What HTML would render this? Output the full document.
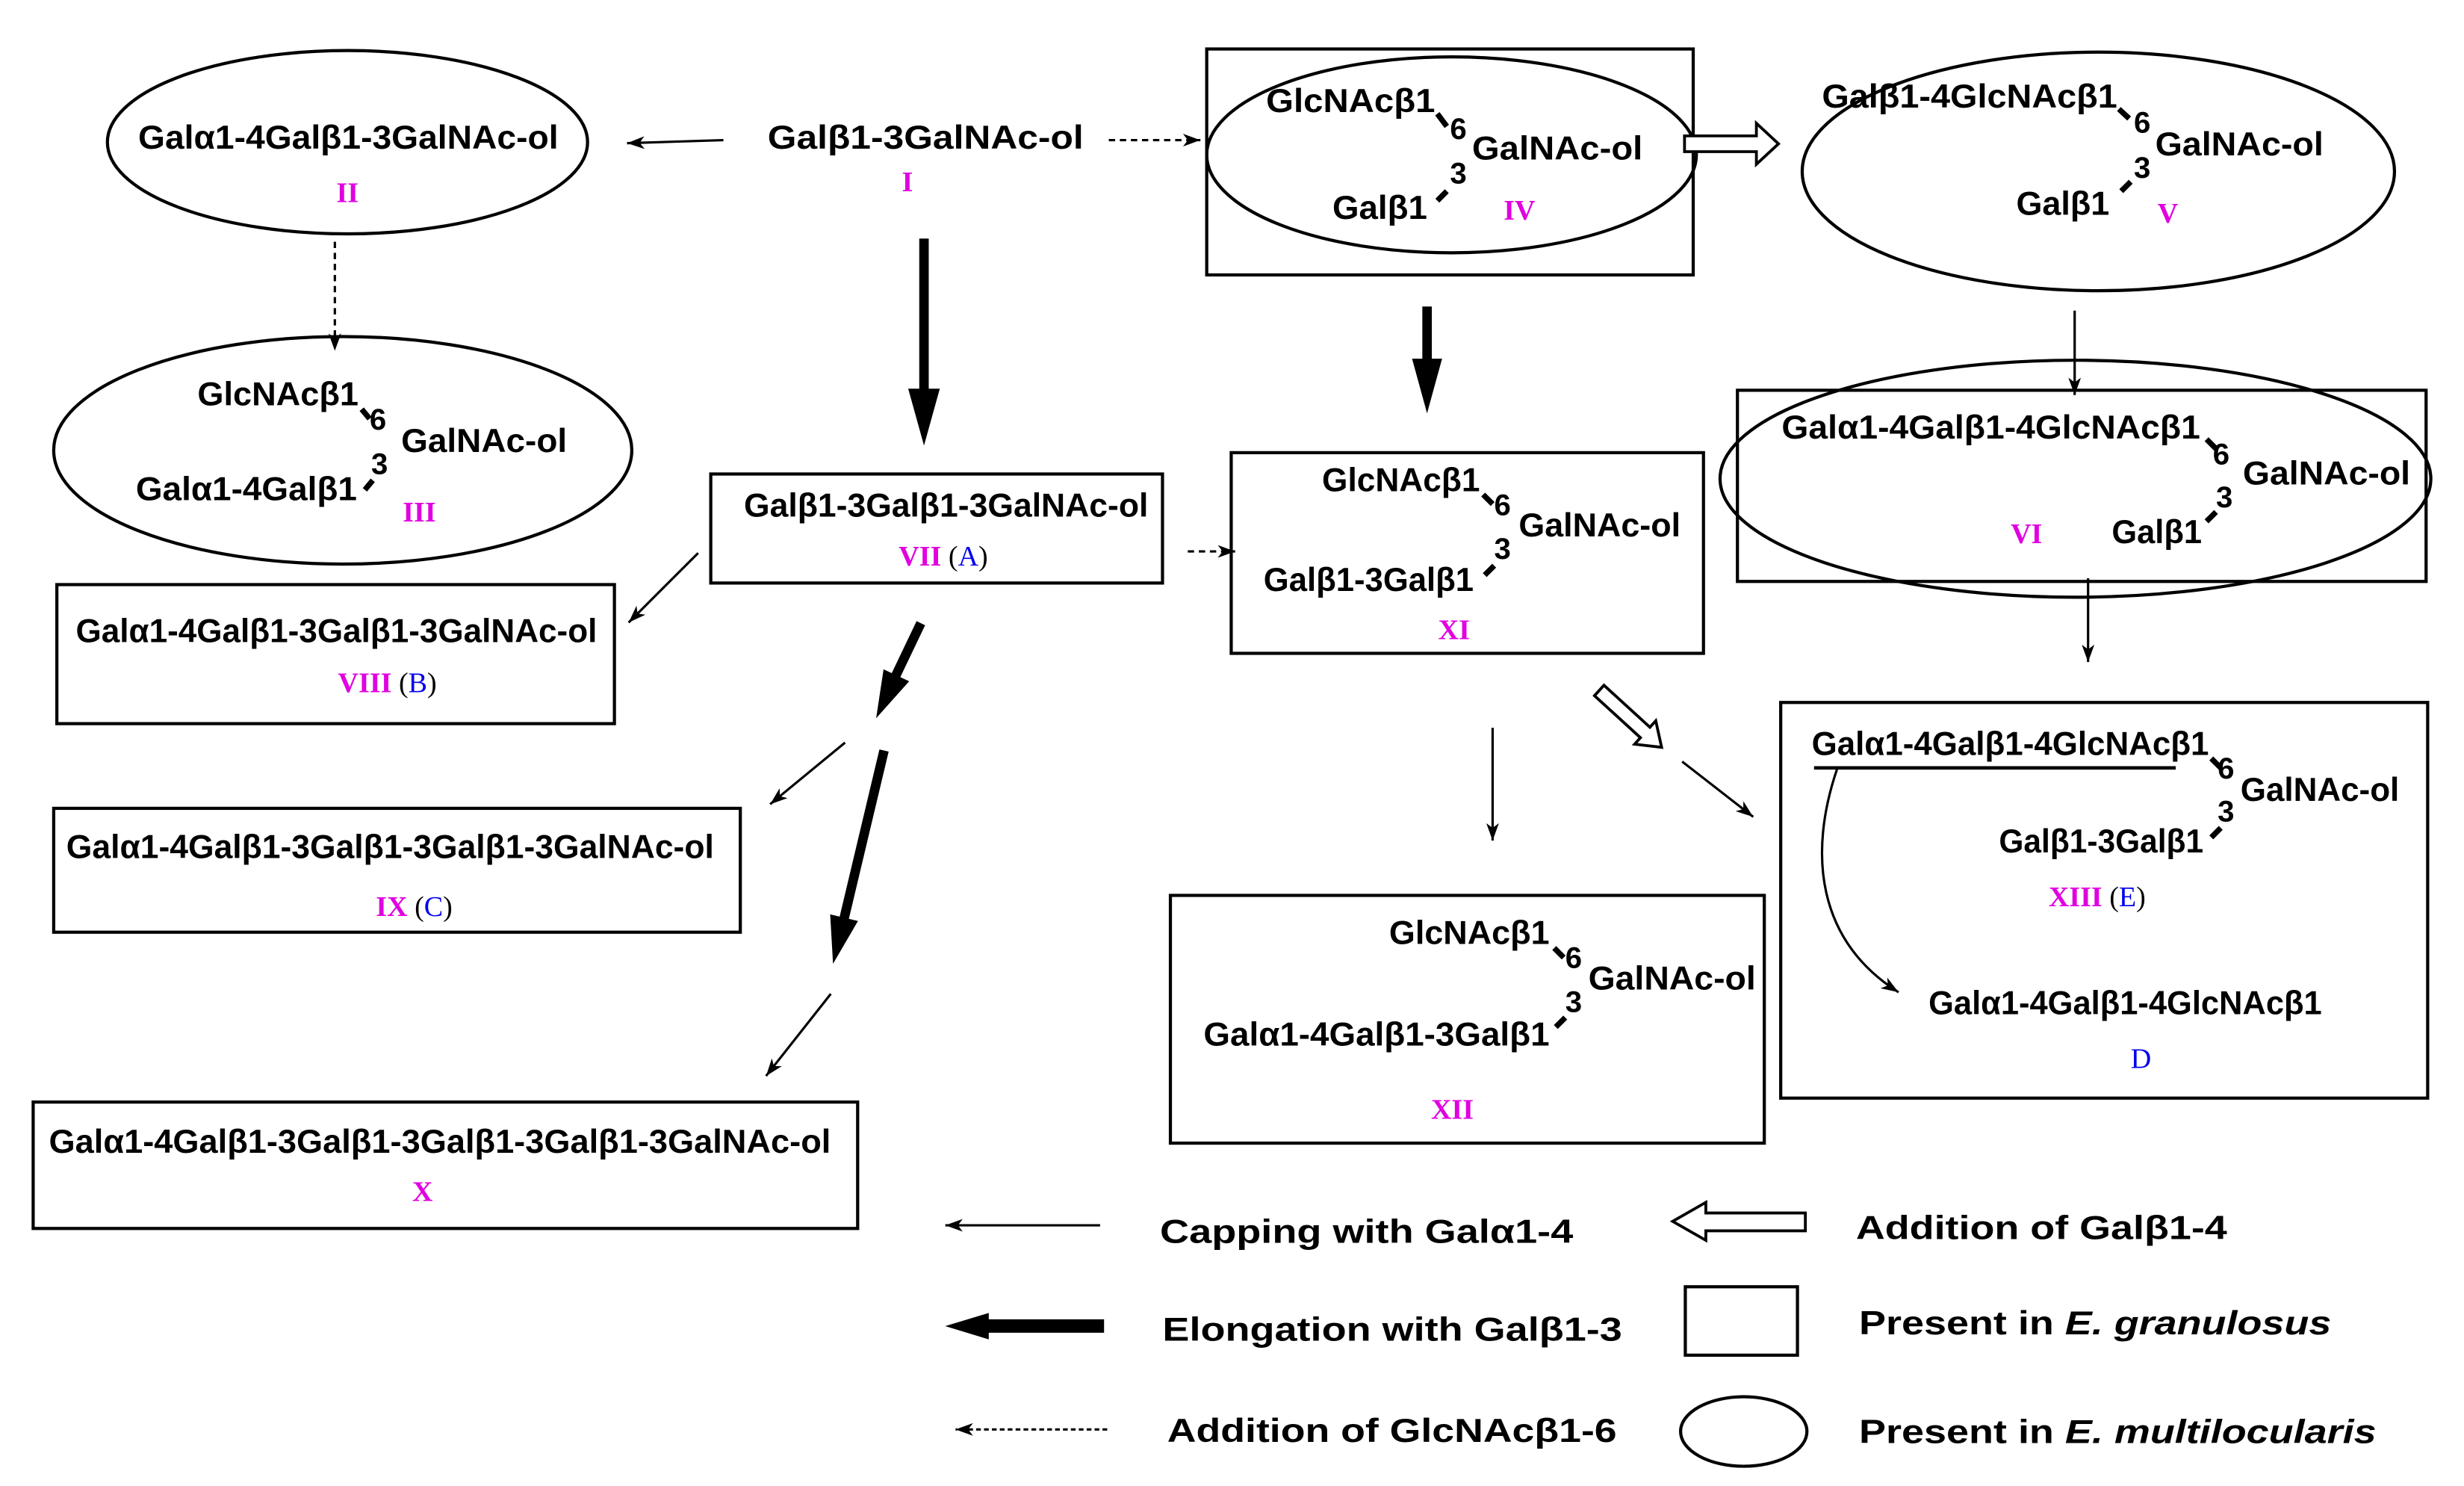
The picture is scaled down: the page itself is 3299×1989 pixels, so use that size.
<!DOCTYPE html>
<html><head><meta charset="utf-8"><style>
html,body{margin:0;padding:0;background:#fff}
svg{display:block}
.t{font-family:"Liberation Sans",sans-serif;font-size:21px;font-weight:bold;fill:#000}
.n{font-family:"Liberation Sans",sans-serif;font-size:19px;font-weight:bold;fill:#000}
.l{font-family:"Liberation Sans",sans-serif;font-size:21px;font-weight:bold;fill:#000}
.m{font-family:"Liberation Serif",serif;font-size:18px;font-weight:bold;fill:#e000e0}
.b{font-family:"Liberation Serif",serif;font-size:18px;fill:#0000ee}
.k{font-family:"Liberation Serif",serif;font-size:18px;fill:#000}
</style></head><body>
<svg width="3299" height="1989" viewBox="0 0 1560 940.5" preserveAspectRatio="none">
<defs>
<marker id="a" markerWidth="11" markerHeight="8" refX="11" refY="4" orient="auto" markerUnits="userSpaceOnUse"><path d="M0,0 L11,4 L0,8 L3,4z" fill="#000"/></marker>
</defs>
<g fill="none" stroke="#000" stroke-width="2">
<ellipse cx="220" cy="90" rx="152" ry="58"/>
<rect x="764" y="31" width="308" height="143"/>
<ellipse cx="919" cy="98" rx="155" ry="62"/>
<ellipse cx="1328.5" cy="108.5" rx="187.5" ry="75.5"/>
<ellipse cx="217" cy="285" rx="183" ry="72"/>
<rect x="450" y="300" width="286" height="69"/>
<rect x="779.5" y="286.5" width="299" height="127"/>
<rect x="1100" y="247" width="436" height="121"/>
<ellipse cx="1314" cy="303" rx="225" ry="75"/>
<rect x="36" y="370" width="353" height="88"/>
<rect x="34" y="511.6" width="434.7" height="78.4"/>
<rect x="21" y="697.5" width="522" height="80"/>
<rect x="741" y="566.7" width="376" height="156.8"/>
<rect x="1127.4" y="444.6" width="409.6" height="250.4"/>
<rect x="1067" y="814.4" width="71" height="43.3"/>
<ellipse cx="1104" cy="906" rx="40" ry="22"/>
</g>
<g stroke="#000" stroke-width="1.5" fill="none">
<line x1="458" y1="88.7" x2="397" y2="90.6" marker-end="url(#a)"/>
<line x1="702" y1="88.7" x2="760" y2="88.7" stroke-dasharray="4,3" marker-end="url(#a)"/>
<line x1="212" y1="153" x2="212" y2="222" stroke-dasharray="4,3" marker-end="url(#a)"/>
<line x1="1313.5" y1="196.6" x2="1313.5" y2="250" marker-end="url(#a)"/>
<line x1="752" y1="349" x2="782" y2="349" stroke-dasharray="4,3" marker-end="url(#a)"/>
<line x1="1322" y1="366" x2="1322" y2="419" marker-end="url(#a)"/>
<line x1="442" y1="350" x2="398" y2="394" marker-end="url(#a)"/>
<line x1="535" y1="470" x2="487.6" y2="509" marker-end="url(#a)"/>
<line x1="526" y1="629" x2="485" y2="681" marker-end="url(#a)"/>
<line x1="945" y1="460.6" x2="945" y2="532" marker-end="url(#a)"/>
<line x1="1065" y1="482" x2="1110" y2="517" marker-end="url(#a)"/>
<path d="M1163,487 C1145,540 1150,595 1202,628" marker-end="url(#a)"/>
<line x1="696.5" y1="775.5" x2="598.5" y2="775.5" marker-end="url(#a)"/>
<line x1="701" y1="904.7" x2="605" y2="904.7" stroke-dasharray="3,2" marker-end="url(#a)"/>
</g>
<line x1="1148.5" y1="486" x2="1377.5" y2="486" stroke="#000" stroke-width="2.2"/>
<g fill="#000" stroke="none">
<rect x="582" y="151" width="6" height="100"/><polygon points="575,246 595,246 585,282"/>
<rect x="900.5" y="194" width="6" height="36"/><polygon points="894,227 913,227 903.5,261.6"/>
<polygon points="575.6,431.2 559.4,423.6 554.7,454.6"/>
<polygon points="543.2,582.9 525.6,578.7 527.4,610"/>
<rect x="624" y="835" width="75" height="8.5"/><polygon points="626,831 626,847.7 598.4,839.3"/>
</g>
<g stroke="#000" stroke-width="6">
<line x1="583" y1="394.4" x2="566" y2="430"/>
<line x1="559.7" y1="475" x2="534" y2="583"/>
</g>
<g stroke="#000" stroke-width="1.8" fill="#fff">
<polygon points="1066.5,86 1112,86 1112,78 1126,91 1112,104 1112,96 1066.5,96"/>
<polygon points="1143,767.7 1080,767.7 1080,761 1059,773 1080,785 1080,779 1143,779"/>
<polygon points="1009.5,440.3 1038.6,466.9 1034.9,471 1052,473 1048.3,456.2 1044.6,460.3 1015.5,433.7"/>
</g>
<g stroke="#000" stroke-width="3.5">
<line x1="910" y1="72" x2="916" y2="80"/><line x1="916" y1="121" x2="910" y2="127"/>
<line x1="1341.5" y1="69" x2="1348" y2="75"/><line x1="1349" y1="115" x2="1343" y2="121"/>
<line x1="229" y1="259" x2="234" y2="265"/><line x1="236" y1="304" x2="231" y2="310"/>
<line x1="939" y1="313" x2="945" y2="319"/><line x1="946" y1="358" x2="940" y2="364"/>
<line x1="1397" y1="278" x2="1403" y2="284"/><line x1="1403" y1="324" x2="1397" y2="330"/>
<line x1="984" y1="600" x2="990" y2="606"/><line x1="991" y1="644" x2="985" y2="650"/>
<line x1="1400" y1="480" x2="1406" y2="486"/><line x1="1406" y1="524" x2="1400" y2="530"/>
</g>
<text class="t" x="87.5" y="94" textLength="266" lengthAdjust="spacingAndGlyphs">Galα1-4Galβ1-3GalNAc-ol</text>
<text class="m" x="213" y="128">II</text>
<text class="t" x="486" y="94" textLength="200" lengthAdjust="spacingAndGlyphs">Galβ1-3GalNAc-ol</text>
<text class="m" x="571" y="121">I</text>
<text class="t" x="801.6" y="71" textLength="107" lengthAdjust="spacingAndGlyphs">GlcNAcβ1</text>
<text class="n" x="918" y="88">6</text>
<text class="t" x="932" y="101" textLength="108" lengthAdjust="spacingAndGlyphs">GalNAc-ol</text>
<text class="n" x="918" y="116">3</text>
<text class="t" x="843.6" y="138.5" textLength="60" lengthAdjust="spacingAndGlyphs">Galβ1</text>
<text class="m" x="952" y="139">IV</text>
<text class="t" x="1153.5" y="68" textLength="187" lengthAdjust="spacingAndGlyphs">Galβ1-4GlcNAcβ1</text>
<text class="n" x="1351" y="84">6</text>
<text class="t" x="1364.5" y="98.4" textLength="106.5" lengthAdjust="spacingAndGlyphs">GalNAc-ol</text>
<text class="n" x="1351" y="112.5">3</text>
<text class="t" x="1276.5" y="136" textLength="59" lengthAdjust="spacingAndGlyphs">Galβ1</text>
<text class="m" x="1366" y="141">V</text>
<text class="t" x="125" y="256.6" textLength="102" lengthAdjust="spacingAndGlyphs">GlcNAcβ1</text>
<text class="n" x="234" y="272">6</text>
<text class="t" x="254" y="286" textLength="105" lengthAdjust="spacingAndGlyphs">GalNAc-ol</text>
<text class="n" x="235" y="300">3</text>
<text class="t" x="86" y="316.5" textLength="140" lengthAdjust="spacingAndGlyphs">Galα1-4Galβ1</text>
<text class="m" x="255" y="330">III</text>
<text class="t" x="471" y="327" textLength="256" lengthAdjust="spacingAndGlyphs">Galβ1-3Galβ1-3GalNAc-ol</text>
<text x="569" y="358"><tspan class="m">VII</tspan><tspan class="k"> (</tspan><tspan class="b">A</tspan><tspan class="k">)</tspan></text>
<text class="t" x="837" y="311" textLength="100" lengthAdjust="spacingAndGlyphs">GlcNAcβ1</text>
<text class="n" x="946" y="326">6</text>
<text class="t" x="961.5" y="339.5" textLength="102.5" lengthAdjust="spacingAndGlyphs">GalNAc-ol</text>
<text class="n" x="946" y="353.6">3</text>
<text class="t" x="800" y="374" textLength="133" lengthAdjust="spacingAndGlyphs">Galβ1-3Galβ1</text>
<text class="m" x="910.6" y="404.5">XI</text>
<text class="t" x="1128" y="277.5" textLength="265" lengthAdjust="spacingAndGlyphs">Galα1-4Galβ1-4GlcNAcβ1</text>
<text class="n" x="1401" y="294">6</text>
<text class="t" x="1420" y="306.6" textLength="106" lengthAdjust="spacingAndGlyphs">GalNAc-ol</text>
<text class="n" x="1403" y="321">3</text>
<text class="m" x="1273" y="343.7">VI</text>
<text class="t" x="1337" y="343.7" textLength="57" lengthAdjust="spacingAndGlyphs">Galβ1</text>
<text class="t" x="48" y="406.5" textLength="330" lengthAdjust="spacingAndGlyphs">Galα1-4Galβ1-3Galβ1-3GalNAc-ol</text>
<text x="214" y="438"><tspan class="m">VIII</tspan><tspan class="k"> (</tspan><tspan class="b">B</tspan><tspan class="k">)</tspan></text>
<text class="t" x="42" y="543" textLength="410" lengthAdjust="spacingAndGlyphs">Galα1-4Galβ1-3Galβ1-3Galβ1-3GalNAc-ol</text>
<text x="238" y="579.7"><tspan class="m">IX</tspan><tspan class="k"> (</tspan><tspan class="b">C</tspan><tspan class="k">)</tspan></text>
<text class="t" x="31" y="729.5" textLength="495" lengthAdjust="spacingAndGlyphs">Galα1-4Galβ1-3Galβ1-3Galβ1-3Galβ1-3GalNAc-ol</text>
<text class="m" x="261" y="760">X</text>
<text class="t" x="879.5" y="597.5" textLength="101.5" lengthAdjust="spacingAndGlyphs">GlcNAcβ1</text>
<text class="n" x="991" y="612.6">6</text>
<text class="t" x="1005.6" y="626.4" textLength="106" lengthAdjust="spacingAndGlyphs">GalNAc-ol</text>
<text class="n" x="991" y="640.6">3</text>
<text class="t" x="762" y="661.7" textLength="219" lengthAdjust="spacingAndGlyphs">Galα1-4Galβ1-3Galβ1</text>
<text class="m" x="906" y="708">XII</text>
<text class="t" x="1147" y="477.8" textLength="251.5" lengthAdjust="spacingAndGlyphs">Galα1-4Galβ1-4GlcNAcβ1</text>
<text class="n" x="1404" y="492.8">6</text>
<text class="t" x="1418.5" y="507" textLength="100.5" lengthAdjust="spacingAndGlyphs">GalNAc-ol</text>
<text class="n" x="1404" y="520">3</text>
<text class="t" x="1265.6" y="539.6" textLength="129.4" lengthAdjust="spacingAndGlyphs">Galβ1-3Galβ1</text>
<text x="1297" y="573.6"><tspan class="m">XIII</tspan><tspan class="k"> (</tspan><tspan class="b">E</tspan><tspan class="k">)</tspan></text>
<text class="t" x="1221" y="642" textLength="249" lengthAdjust="spacingAndGlyphs">Galα1-4Galβ1-4GlcNAcβ1</text>
<text class="b" x="1349" y="676">D</text>
<text class="l" x="734.4" y="786.7" textLength="261.6" lengthAdjust="spacingAndGlyphs">Capping with Galα1-4</text>
<text class="l" x="1175" y="784.3" textLength="235" lengthAdjust="spacingAndGlyphs">Addition of Galβ1-4</text>
<text class="l" x="736" y="848.5" textLength="291" lengthAdjust="spacingAndGlyphs">Elongation with Galβ1-3</text>
<text class="l" x="1177" y="844.5" textLength="299" lengthAdjust="spacingAndGlyphs">Present in <tspan font-style="italic">E. granulosus</tspan></text>
<text class="l" x="739" y="912.7" textLength="284.6" lengthAdjust="spacingAndGlyphs">Addition of GlcNAcβ1-6</text>
<text class="l" x="1177" y="913.4" textLength="327.5" lengthAdjust="spacingAndGlyphs">Present in <tspan font-style="italic">E. multilocularis</tspan></text>
</svg>
</body></html>
